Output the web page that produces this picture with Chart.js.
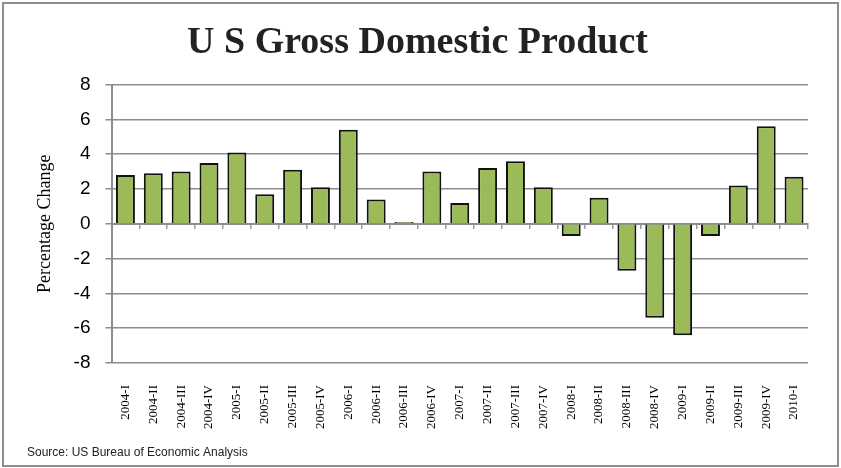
<!DOCTYPE html>
<html>
<head>
<meta charset="utf-8">
<script src="https://cdn.jsdelivr.net/npm/chart.js@4"></script>
<style>
  body { margin: 0; background: #fff; }
  #wrap { position: relative; width: 841px; height: 468px; }
  #frame { position: absolute; left: 2px; top: 2px; width: 833px; height: 461px; border: 2px solid #8e8e8e; pointer-events: none; }
</style>
</head>
<body>
<div id="wrap">
  <canvas id="gdpChart" width="841" height="468"></canvas>
  <div id="frame"></div>
</div>
<script>
// Quarter labels and GDP change (%)
const quarters = [
    '2004-I', '2004-II', '2004-III', '2004-IV',
    '2005-I', '2005-II', '2005-III', '2005-IV',
    '2006-I', '2006-II', '2006-III', '2006-IV',
    '2007-I', '2007-II', '2007-III', '2007-IV',
    '2008-I', '2008-II', '2008-III', '2008-IV',
    '2009-I', '2009-II', '2009-III', '2009-IV',
    '2010-I'
];
const gdpChange = [
    2.8, 2.9, 3.0, 3.5,
    4.1, 1.7, 3.1, 2.1,
    5.4, 1.4, 0.1, 3.0,
    1.2, 3.2, 3.6, 2.1,
    -0.7, 1.5, -2.7, -5.4,
    -6.4, -0.7, 2.2, 5.6,
    2.7
];
const yMin = -8;
const yMax = 8;
const yStep = 2;

Chart.defaults.color = '#000';
const gridGray = '#8c8c8c';

const ctx = document.getElementById('gdpChart').getContext('2d');

new Chart(ctx, {
    type: 'bar',
    data: {
        labels: quarters,
        datasets: [{
            label: 'Percentage Change',
            data: gdpChange,
            backgroundColor: '#9bbb59',
            borderColor: '#111',
            borderWidth: 2,
            barPercentage: 0.68,
            categoryPercentage: 1
        }]
    },
    options: {
        responsive: false,
        animation: false,
        layout: { padding: { left: 27, right: 33, top: 0, bottom: 0 } },
        plugins: {
            legend: { display: false },
            tooltip: { enabled: false },
            title: {
                display: true,
                text: 'U S Gross Domestic Product',
                font: { family: 'Liberation Serif', size: 38, weight: 'bold' },
                color: '#222',
                padding: { top: 20, bottom: 19 }
            },
            subtitle: {
                display: true,
                position: 'bottom',
                align: 'start',
                text: 'Source: US Bureau of Economic Analysis',
                font: { family: 'Liberation Sans', size: 12 },
                color: '#222',
                padding: { top: 0, bottom: 8 }
            }
        },
        scales: {
            x: {
                grid: { display: false, drawTicks: false },
                border: { display: false },
                ticks: {
                    minRotation: 90,
                    maxRotation: 90,
                    autoSkip: false,
                    padding: 22,
                    font: { family: 'Liberation Serif', size: 13 }
                },
                afterFit: (scale) => { scale.height = 82.6; }
            },
            // zero line with the category tick marks
            x2: {
                type: 'category',
                position: { y: 0 },
                offset: true,
                grid: { offset: true, drawOnChartArea: false, drawTicks: true, tickLength: 4, color: '#9a9a9a', lineWidth: 1.5 },
                border: { display: true, color: gridGray, width: 2 },
                ticks: { display: false }
            },
            y: {
                min: yMin,
                max: yMax,
                ticks: {
                    stepSize: yStep,
                    padding: 15,
                    font: { family: 'Liberation Sans', size: 19 }
                },
                grid: { color: gridGray, lineWidth: 1.5, tickLength: 6 },
                border: { color: gridGray, width: 2 },
                title: {
                    display: true,
                    text: 'Percentage Change',
                    font: { family: 'Liberation Serif', size: 18 },
                    padding: { top: 7, bottom: 0 }
                },
                afterFit: (scale) => { scale.width = 84.5; }
            }
        }
    }
});
</script>
</body>
</html>
